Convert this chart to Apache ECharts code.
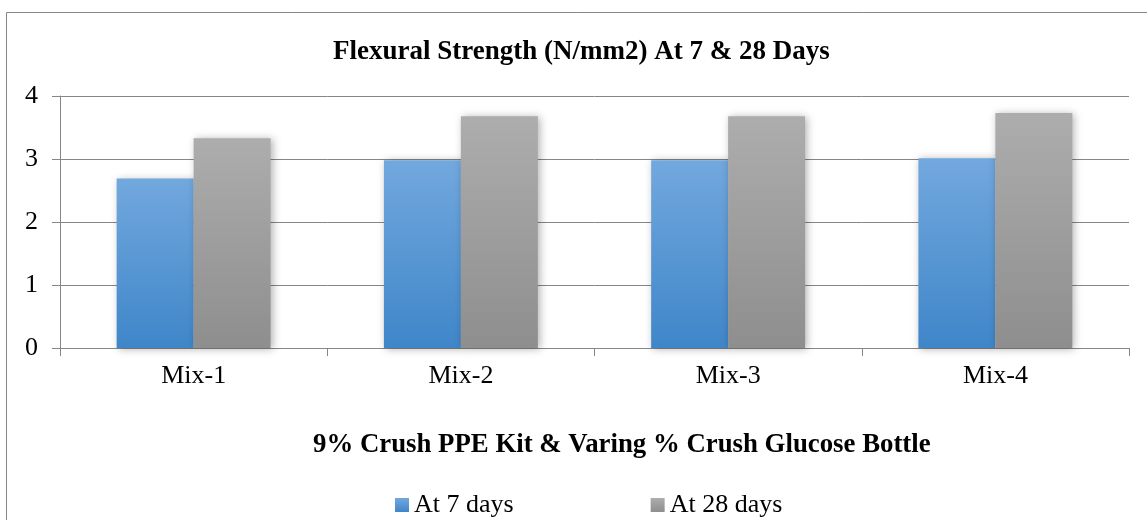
<!DOCTYPE html>
<html>
<head>
<meta charset="utf-8">
<title>Flexural Strength</title>
<script src="https://cdn.jsdelivr.net/npm/echarts@6/dist/echarts.min.js"></script>
<style>
  html, body { margin: 0; padding: 0; background: #fff; }
  #chart { width: 1147px; height: 520px; }
</style>
</head>
<body>
<div id="chart"></div>
<script>
// data
const categories = ['Mix-1', 'Mix-2', 'Mix-3', 'Mix-4']
const days7 = [2.69, 2.98, 2.98, 3.01]
const days28 = [3.33, 3.68, 3.68, 3.73]
const seriesNames = ['At 7 days', 'At 28 days']
const yTicks = [0, 1, 2, 3, 4]

const serif = '"Liberation Serif", "Times New Roman", serif'
const lineColor = '#868686'

const chart = echarts.init(document.getElementById('chart'))

function grad(top, bottom) {
  return new echarts.graphic.LinearGradient(0, 0, 0, 1, [
    { offset: 0, color: top },
    { offset: 1, color: bottom }
  ])
}

const barShadow = {
  shadowBlur: 8,
  shadowColor: 'rgba(0, 0, 0, 0.3)',
  shadowOffsetX: 2,
  shadowOffsetY: 1
}

chart.setOption({
  animation: false,
  title: [
    {
      text: 'Flexural Strength (N/mm2) At 7 & 28 Days',
      left: 333,
      top: 39,
      padding: 0,
      textStyle: { fontFamily: serif, fontWeight: 'bold', fontSize: 27, color: '#000' }
    },
    {
      // axis title
      text: '9% Crush PPE Kit & Varing % Crush Glucose Bottle',
      left: 313,
      top: 432,
      padding: 0,
      textStyle: { fontFamily: serif, fontWeight: 'bold', fontSize: 26.8, color: '#000' }
    }
  ],
  graphic: [{
    type: 'rect',
    shape: { x: 6.5, y: 12.5, width: 1200, height: 600 },
    style: { fill: 'none', stroke: lineColor, lineWidth: 1 },
    silent: true
  }],
  legend: {
    left: 395,
    top: 492,
    padding: 0,
    icon: 'rect',
    itemWidth: 14,
    itemHeight: 14,
    itemGap: 137,
    textStyle: { fontFamily: serif, fontSize: 26, color: '#000' },
    data: seriesNames
  },
  grid: { left: 60, right: 18, top: 96, bottom: 172, containLabel: false },
  xAxis: {
    type: 'category',
    data: categories,
    axisLine: { lineStyle: { color: lineColor, width: 1 } },
    axisTick: { show: true, length: 8, lineStyle: { color: lineColor } },
    axisLabel: { fontFamily: serif, fontSize: 26, color: '#000', margin: 15 }
  },
  yAxis: {
    type: 'value',
    min: yTicks[0],
    max: yTicks[yTicks.length - 1],
    interval: 1,
    axisLine: { show: true, lineStyle: { color: lineColor, width: 1 } },
    axisTick: { show: true, length: 8, lineStyle: { color: lineColor } },
    axisLabel: { fontFamily: serif, fontSize: 26, color: '#000', margin: 22 },
    splitLine: { lineStyle: { color: lineColor, width: 1 } }
  },
  series: [
    {
      name: seriesNames[0],
      type: 'bar',
      data: days7,
      barGap: '0%',
      barCategoryGap: '42.4%',
      itemStyle: Object.assign({ color: grad('#72a8de', '#3f86c9') }, barShadow)
    },
    {
      name: seriesNames[1],
      type: 'bar',
      data: days28,
      barGap: '0%',
      barCategoryGap: '42.4%',
      itemStyle: Object.assign({ color: grad('#adadad', '#8e8e8e') }, barShadow)
    }
  ]
})

window.addEventListener('resize', () => chart.resize())
</script>
</body>
</html>
